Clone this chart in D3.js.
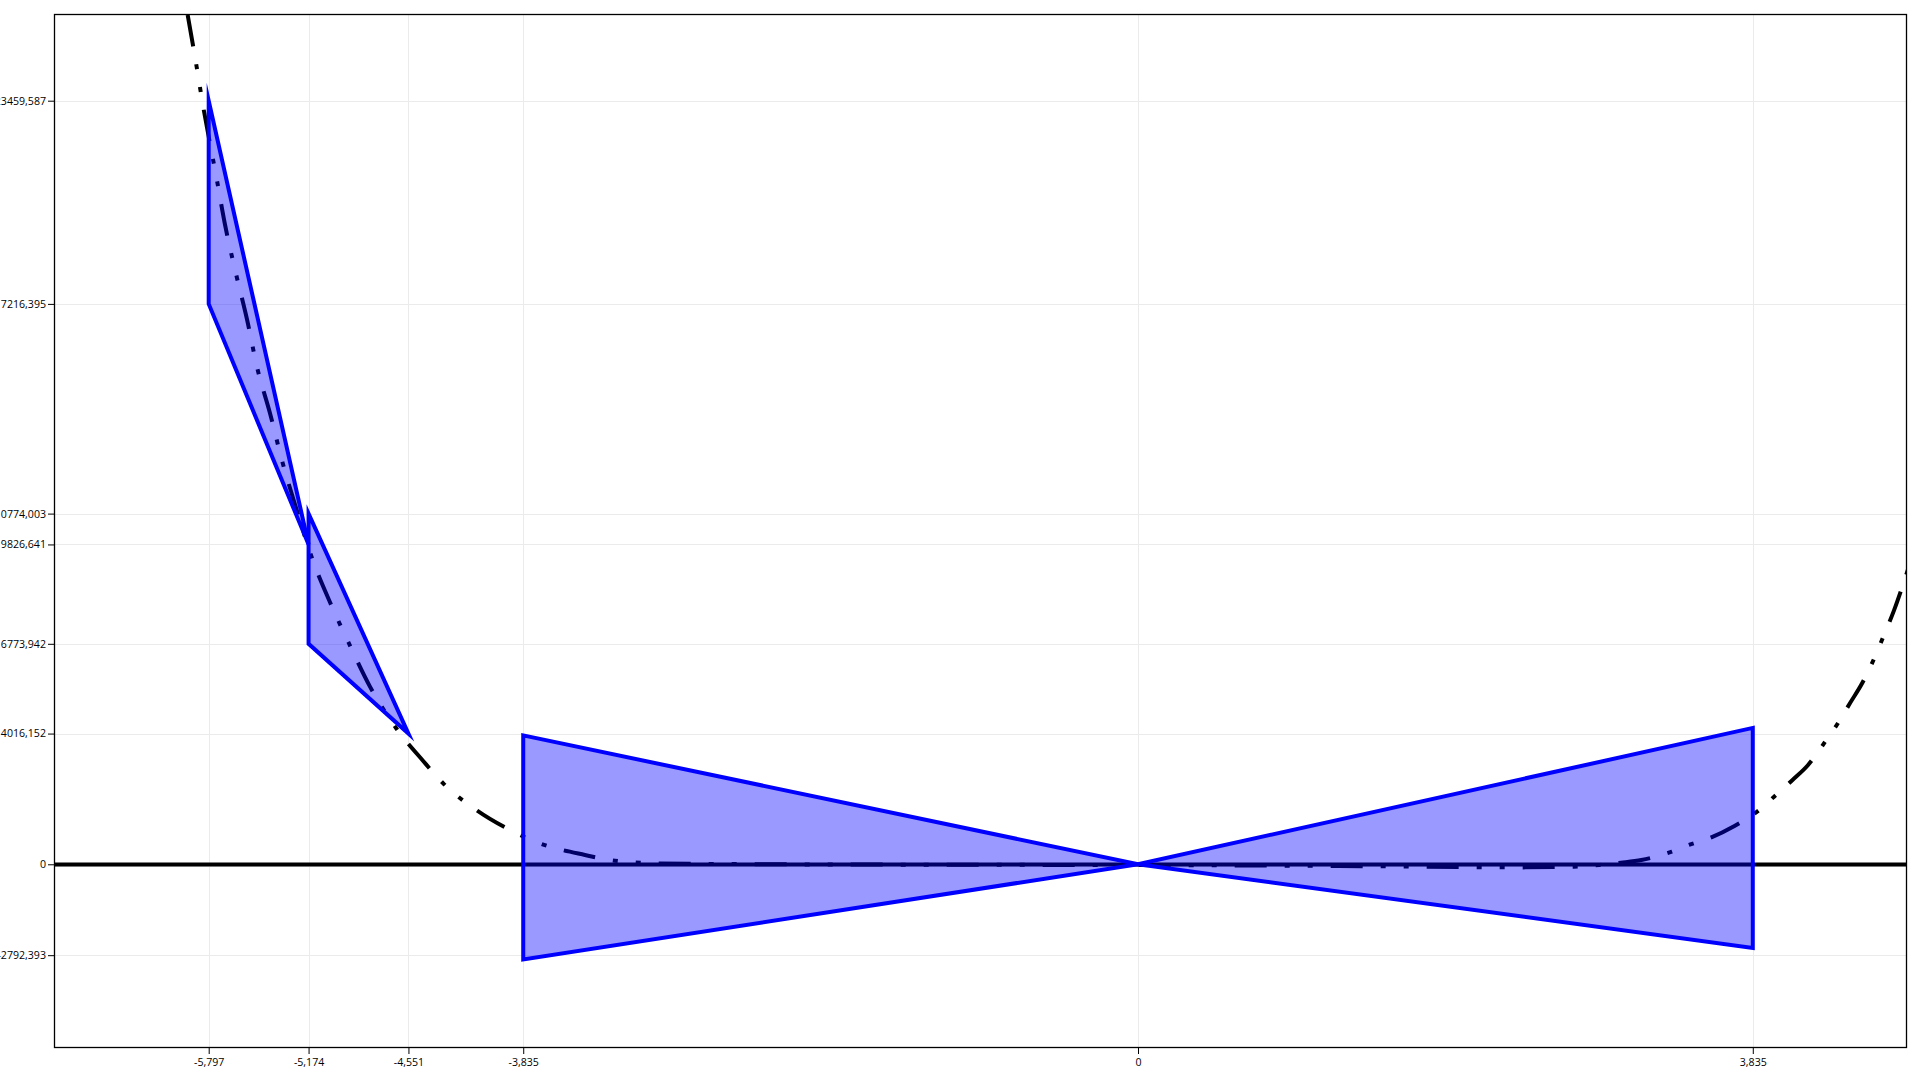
<!DOCTYPE html>
<meta charset="utf-8">
<style>
  body { margin: 0; background: #fff; }
  .axis text { font: 10.6px "Open Sans", sans-serif; fill: #000; }
  .axis path { display: none; }
  .axis line { stroke: #000; }
  .grid line { stroke: #ebebeb; stroke-width: 1px; }
</style>
<script src="https://d3js.org/d3.v7.min.js"></script>
<div id="chart"></div>
<script>
  // tick positions as printed on the axes
  var xTicks = [-5.797, -5.174, -4.551, -3.835, 0, 3.835];
  var yTicks = [23459.587, 17216.395, 10774.003, 9826.641, 6773.942, 4016.152, 0, -2792.393];

  // dash-dot curve
  var curveX = [-5.928, -5.872, -5.831, -5.793, -5.747, -5.696, -5.627, -5.560, -5.494, -5.415,
                -5.336, -5.248, -5.155, -5.041, -4.926, -4.791, -4.624, -4.459, -4.334, -4.122,
                -3.930, -3.720, -3.450, -3.263, -2.982, -2.500, -2.000, -1.000, 0.000, 1.000,
                1.600, 2.000, 2.400, 2.720, 2.880, 3.013, 3.140, 3.330, 3.437, 3.587,
                3.712, 3.862, 3.968, 4.083, 4.180, 4.294, 4.367, 4.442, 4.517, 4.601,
                4.654, 4.716, 4.770, 4.822];
  var curveY = [26092, 24495, 23266, 22252, 21054, 19671, 18147, 16784, 15247, 13865,
                12338, 10885, 9441, 8058, 6829, 5459, 4157, 3174, 2488, 1647,
                1085, 624, 286, 111, 25, 5, -5, -15, -25, -45,
                -65, -85, -95, -74, -20, 49, 132, 387, 593, 848,
                1155, 1616, 2077, 2590, 3051, 3819, 4341, 4955, 5560, 6420,
                7050, 7800, 8560, 9350];

  // filled diagrams
  var wedge1 = [[-5.797, 23459.587], [-5.797, 17216.395], [-5.174, 9826.641]];
  var wedge2 = [[-5.174, 10774.003], [-5.174, 6773.942], [-4.551, 4016.152]];
  var bowtie = [[-3.835, 3960], [0, 0], [3.835, 4190], [3.835, -2570], [0, 0], [-3.835, -2925]];

  var width = 1920, height = 1080;
  var plotL = 54, plotT = 14, plotR = 1907, plotB = 1048;

  var svg = d3.select("#chart").append("svg")
    .attr("width", width)
    .attr("height", height);

  var x = d3.scaleLinear().domain([-6.762, 4.797]).range([plotL, plotR]);
  var y = d3.scaleLinear().domain([-5644, 26123]).range([plotB, plotT]);

  var fmt = function(d) { return String(d).replace(".", ","); };

  // grid
  var grid = svg.append("g").attr("class", "grid");
  grid.selectAll(".gx").data(xTicks).enter().append("line")
    .attr("x1", function(d) { return Math.round(x(d)) + 0.5; })
    .attr("x2", function(d) { return Math.round(x(d)) + 0.5; })
    .attr("y1", plotT).attr("y2", plotB);
  grid.selectAll(".gy").data(yTicks).enter().append("line")
    .attr("x1", plotL).attr("x2", plotR)
    .attr("y1", function(d) { return Math.round(y(d)) + 0.5; })
    .attr("y2", function(d) { return Math.round(y(d)) + 0.5; });

  svg.append("clipPath").attr("id", "plot")
    .append("rect").attr("x", plotL).attr("y", plotT)
    .attr("width", plotR - plotL).attr("height", plotB - plotT);

  var plot = svg.append("g").attr("clip-path", "url(#plot)");

  // zero line
  plot.append("line")
    .attr("x1", plotL).attr("x2", plotR)
    .attr("y1", y(0) + 2).attr("y2", y(0) + 2)
    .attr("stroke", "#777").attr("stroke-width", 1.5);
  plot.append("line")
    .attr("x1", plotL).attr("x2", plotR)
    .attr("y1", y(0)).attr("y2", y(0))
    .attr("stroke", "#000").attr("stroke-width", 3.6);

  // curve
  var line = d3.line()
    .x(function(d, i) { return x(curveX[i]); })
    .y(function(d, i) { return y(curveY[i]); })
    .curve(d3.curveMonotoneX);

  plot.append("path")
    .attr("d", line(curveX))
    .attr("fill", "none")
    .attr("stroke", "#000")
    .attr("stroke-width", 4)
    .attr("stroke-dasharray", "32,18,5,18,5,18");

  // polygons
  var poly = function(pts) {
    return "M" + pts.map(function(p) { return x(p[0]) + "," + y(p[1]); }).join("L") + "Z";
  };
  plot.selectAll(".poly").data([wedge1, wedge2, bowtie]).enter().append("path")
    .attr("d", poly)
    .attr("fill", "rgb(0,0,255)")
    .attr("fill-opacity", 0.4)
    .attr("stroke", "#0000ff")
    .attr("stroke-width", 4)
    .attr("stroke-linejoin", "miter")
    .attr("stroke-miterlimit", 10);

  // axes
  svg.append("g").attr("class", "axis")
    .attr("transform", "translate(" + plotL + ",0)")
    .call(d3.axisLeft(y).tickValues(yTicks).tickFormat(fmt).tickSize(6).tickPadding(2));
  svg.append("g").attr("class", "axis")
    .attr("transform", "translate(0," + plotB + ")")
    .call(d3.axisBottom(x).tickValues(xTicks).tickFormat(fmt).tickSize(6).tickPadding(4));

  // frame
  svg.append("rect")
    .attr("x", plotL + 0.5).attr("y", plotT + 0.5)
    .attr("width", plotR - plotL - 1).attr("height", plotB - plotT - 1)
    .attr("fill", "none").attr("stroke", "#000").attr("stroke-width", 1.3);
</script>
